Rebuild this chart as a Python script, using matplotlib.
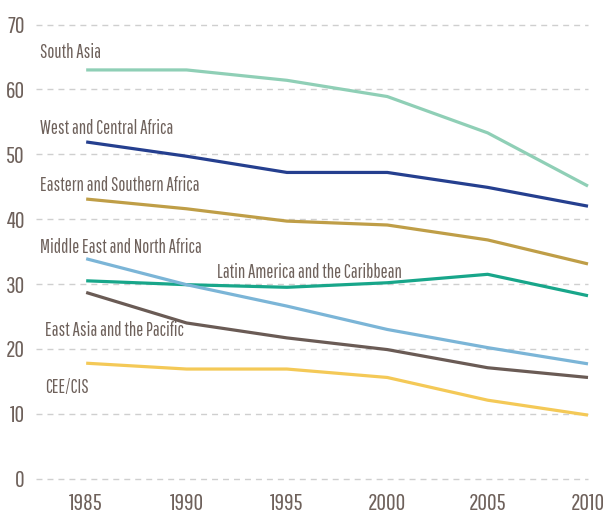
import matplotlib
matplotlib.use("Agg")
import matplotlib.pyplot as plt

years = [1985, 1990, 1995, 2000, 2005, 2010]
south_asia = [63.0, 63.0, 61.4, 58.9, 53.3, 45.1]
west_central_africa = [51.9, 49.7, 47.2, 47.2, 44.9, 42.0]
eastern_southern_africa = [43.1, 41.6, 39.7, 39.1, 36.8, 33.1]
latin_america = [30.5, 29.9, 29.5, 30.2, 31.5, 28.2]
mena = [33.9, 29.9, 26.6, 23.0, 20.2, 17.7]
east_asia = [28.7, 24.0, 21.7, 19.9, 17.1, 15.6]
cee_cis = [17.8, 16.9, 16.9, 15.6, 12.1, 9.8]

series = [
    ("South Asia", south_asia, "#8fcfb6", (1982.7, 65.7)),
    ("West and Central Africa", west_central_africa, "#253f8f", (1982.7, 54.0)),
    ("Eastern and Southern Africa", eastern_southern_africa, "#bf9e47", (1982.7, 45.2)),
    ("Latin America and the Caribbean", latin_america, "#18a68a", (1991.5, 31.8)),
    ("Middle East and North Africa", mena, "#7bb5d7", (1982.7, 35.7)),
    ("East Asia and the Pacific", east_asia, "#6a5b55", (1982.95, 22.8)),
    ("CEE/CIS", cee_cis, "#f4c957", (1982.95, 14.1)),
]
yticks = [0, 10, 20, 30, 40, 50, 60, 70]

text_color = "#6e615b"
font = ["Pathway Gothic One", "DejaVu Sans"]

fig = plt.figure(figsize=(6.07, 5.14), dpi=100)
fig.patch.set_facecolor("white")
ax = fig.add_axes([0.0593, 0.0687, 0.9094, 0.8836])
ax.set_xlim(1982.5, 2010)
ax.set_ylim(0, 70)

for y in yticks:
    ax.axhline(y, color="#cfcfcf", lw=1.0, ls=(0, (4.3, 3.6)), zorder=0, clip_on=False)

for name, vals, color, (tx, ty) in series:
    ax.plot(years, vals, color=color, lw=2.3, solid_capstyle="butt", clip_on=False, zorder=3)
    ax.text(tx, ty, name, color=text_color, fontsize=13.5, family=font,
            ha="left", va="center", zorder=4)

ax.set_yticks(yticks)
ax.set_yticklabels([str(v) for v in yticks])
ax.set_xticks(years)
ax.set_xticklabels([str(v) for v in years])
for lab in ax.get_xticklabels() + ax.get_yticklabels():
    lab.set_family(font)
    lab.set_fontsize(17)
    lab.set_color(text_color)
ax.tick_params(axis="both", length=0)
ax.tick_params(axis="y", pad=8)
ax.tick_params(axis="x", pad=10)
for s in ax.spines.values():
    s.set_visible(False)
ax.set_facecolor("none")

fig.savefig("out.png", dpi=100, facecolor="white")
